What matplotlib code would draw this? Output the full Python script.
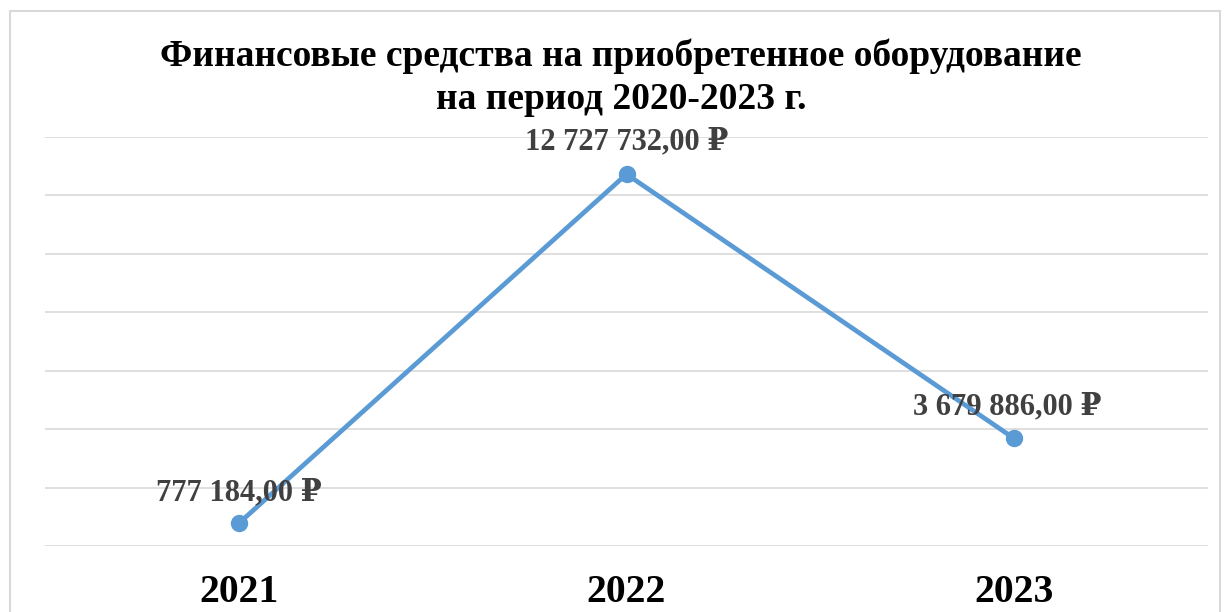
import matplotlib
matplotlib.use("Agg")
import matplotlib.pyplot as plt
from matplotlib.patches import Rectangle

years = ["2021", "2022", "2023"]
values = [777184.00, 12727732.00, 3679886.00]
labels = ["777 184,00 \u20bd", "12 727 732,00 \u20bd", "3 679 886,00 \u20bd"]
title = "Финансовые средства на приобретенное оборудование\nна период 2020-2023 г."

W, H = 1226, 612
fig = plt.figure(figsize=(W / 100, H / 100), dpi=100)
plt.rcParams['font.family'] = ['Liberation Serif', 'DejaVu Serif']

# outer chart frame
fig.patches.append(Rectangle((10 / W, -0.05), 1210 / W, 1 - 11 / H + 0.05,
                             transform=fig.transFigure, fill=False,
                             edgecolor="#D9D9D9", linewidth=1.5))

ax = fig.add_axes([45 / W, 1 - 546 / H, 1163 / W, 409 / H])
x = list(range(len(years)))
ax.plot(x, values, color="#5B9BD5", linewidth=3.4, marker="o", markersize=11.5,
        solid_capstyle="round", zorder=3)
ax.set_xlim(-0.5, len(years) - 0.5)
ax.set_ylim(0, 14000000)
ax.set_yticks(range(0, 14000001, 2000000))
ax.yaxis.grid(True, color="#D9D9D9", linewidth=1.2)
ax.set_axisbelow(True)
ax.tick_params(axis="y", left=False, labelleft=False)
ax.tick_params(axis="x", bottom=False, pad=17)
ax.set_xticks(x)
ax.set_xticklabels(years, fontsize=28.5, fontweight="bold", color="black")
for s in ax.spines.values():
    s.set_visible(False)

offsets = [(0, 22), (0, 23.5), (-5, 23)]
for xi, v, lab, off in zip(x, values, labels, offsets):
    ax.annotate(lab, (xi, v), xytext=off, textcoords="offset points",
                ha="center", va="center", fontsize=22, fontweight="bold",
                color="#404040", zorder=4)

fig.text(621 / W, 1 - 78 / H, title, ha="center", va="center", fontsize=27,
         fontweight="bold", color="black", linespacing=1.3)

fig.savefig("out.png", dpi=100, facecolor="white")
